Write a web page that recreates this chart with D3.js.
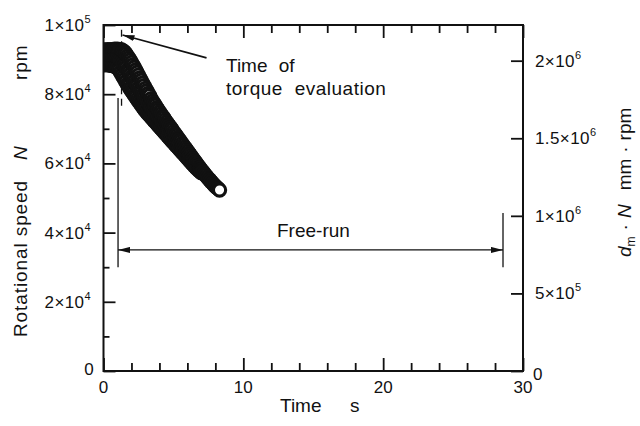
<!DOCTYPE html>
<html>
<head>
<meta charset="utf-8">
<script src="https://cdn.jsdelivr.net/npm/d3@7"></script>
<style>
  body { margin: 0; background: #fff; }
  svg text { font-family: "Liberation Sans", Arial, Helvetica, sans-serif; fill: #111; }
</style>
</head>
<body>
<div id="chart"></div>
<script>
// time axis (s) shared by the three overlapping runs of circles
const timeS = [
  0.0, 0.1, 0.2, 0.3, 0.4, 0.5, 0.6, 0.7, 0.8, 0.9,
  1.0, 1.1, 1.2, 1.3, 1.4, 1.5, 1.6, 1.7, 1.8, 1.9,
  2.0, 2.1, 2.2, 2.3, 2.4, 2.5, 2.6, 2.7, 2.8, 2.9,
  3.0, 3.1, 3.2, 3.3, 3.4, 3.5, 3.6, 3.7, 3.8, 3.9,
  4.0, 4.1, 4.2, 4.3, 4.4, 4.5, 4.6, 4.7, 4.8, 4.9,
  5.0, 5.1, 5.2, 5.3, 5.4, 5.5, 5.6, 5.7, 5.8, 5.9,
  6.0, 6.1, 6.2, 6.3, 6.4, 6.5, 6.6, 6.7, 6.8, 6.9,
  7.0, 7.1, 7.2, 7.3, 7.4, 7.5, 7.6, 7.7, 7.8, 7.9,
  8.0, 8.1, 8.2, 8.3
];
// rotational speed N (rpm), upper edge of the band
const speedUpper = [
  92700, 92800, 92600, 92900, 92800, 92700, 92900, 92800, 93000, 92900,
  93000, 92900, 92900, 92800, 92500, 92200, 91700, 91100, 90500, 89900,
  89200, 88500, 87800, 87000, 86300, 85500, 84700, 84000, 83200, 82500,
  81700, 81000, 80200, 79600, 78700, 78000, 77400, 76800, 76100, 75500,
  74900, 74300, 73700, 73200, 72600, 72000, 71400, 70900, 70300, 69800,
  69200, 68600, 68100, 67500, 66900, 66400, 65800, 65300, 64700, 64200,
  63600, 63000, 62500, 61900, 61400, 60800, 60300, 59700, 59200, 58600,
  58100, 57600, 57100, 56600, 56100, 55600, 55200, 54700, 54300, 53800,
  53400, 53000, 52700, 52300
];
// middle of the band (0 - 7 s)
const speedMiddle = [
  90700, 90600, 90600, 90700, 90600, 90600, 90600, 90500, 90600, 90400,
  90400, 90000, 89700, 89300, 88800, 88300, 87700, 87000, 86400, 85800,
  85100, 84500, 83800, 83100, 82500, 81800, 81100, 80500, 79800, 79200,
  78500, 77900, 77300, 76700, 76100, 75500, 74900, 74400, 73800, 73300,
  72800, 72200, 71700, 71200, 70700, 70200, 69600, 69200, 68600, 68200,
  67600, 67100, 66600, 66100, 65600, 65100, 64600, 64100, 63600, 63100,
  62600, 62000, 61600, 61000, 60600, 60000, 59600, 59100, 58600, 58200,
  57700
];
// lower edge of the band (0 - 7 s)
const speedLower = [
  88600, 88500, 88600, 88500, 88500, 88400, 88300, 88200, 88100, 87900,
  87700, 87100, 86400, 85700, 85000, 84300, 83600, 82900, 82300, 81600,
  81000, 80400, 79800, 79200, 78600, 78000, 77400, 76900, 76300, 75800,
  75200, 74700, 74300, 73800, 73400, 72900, 72400, 72000, 71500, 71100,
  70600, 70100, 69700, 69200, 68800, 68300, 67800, 67400, 66900, 66500,
  66000, 65600, 65100, 64700, 64200, 63800, 63300, 62900, 62400, 62000,
  61500, 61000, 60600, 60100, 59700, 59200, 58800, 58400, 58000, 57700,
  57300
];

const meanDiameterMm = 22.3;   // dm, right axis = dm * N

const xMajor = [0, 10, 20, 30];
const xMinor = [2, 4, 6, 8, 12, 14, 16, 18, 22, 24, 26, 28];
const xLabels = ["0", "10", "20", "30"];
const yMajor = [0, 20000, 40000, 60000, 80000, 100000];
const yMinor = [10000, 30000, 50000, 70000, 90000];
const yLabels = [["0", ""], ["2×10", "4"], ["4×10", "4"], ["6×10", "4"], ["8×10", "4"], ["1×10", "5"]];
const rMajor = [0, 500000, 1000000, 1500000, 2000000];
const rLabels = [["0", ""], ["5×10", "5"], ["1×10", "6"], ["1.5×10", "6"], ["2×10", "6"]];

// annotation values (data units)
const torqueTime = 1.29;
const torqueSpan = [76600, 98600];
const freeRunStart = 1.04, freeRunEnd = 28.57, freeRunLevel = 35000;
const freeRunLeftSpan = [30000, 78900];
const freeRunRightSpan = [30000, 45700];
const calloutFrom = [7.37, 90500], calloutTo = [1.36, 97100];

const W = 640, H = 426;
const m = { left: 103.5, right: 117, top: 25, bottom: 55 };
const pw = W - m.left - m.right, ph = H - m.top - m.bottom;

const svg = d3.select("#chart").append("svg").attr("width", W).attr("height", H);

const x = d3.scaleLinear().domain([0, 30]).range([m.left, m.left + pw]);
const y = d3.scaleLinear().domain([0, 100000]).range([m.top + ph, m.top]);
const yR = d3.scaleLinear().domain([0, 100000 * meanDiameterMm]).range([m.top + ph, m.top]);

const defs = svg.append("defs");
defs.append("clipPath").attr("id", "plotClip")
  .append("rect").attr("x", m.left).attr("y", m.top).attr("width", pw).attr("height", ph);
defs.append("marker").attr("id", "head")
  .attr("viewBox", "0 0 12 6").attr("refX", 12).attr("refY", 3)
  .attr("markerWidth", 12).attr("markerHeight", 6)
  .attr("markerUnits", "userSpaceOnUse").attr("orient", "auto-start-reverse")
  .append("path").attr("d", "M0,0 L12,3 L0,6 Z").attr("fill", "#111");

// time-of-torque marker (dashed, mostly hidden under circles)
svg.append("line")
  .attr("x1", x(torqueTime)).attr("x2", x(torqueTime))
  .attr("y1", y(torqueSpan[1])).attr("y2", y(torqueSpan[0]))
  .attr("stroke", "#111").attr("stroke-width", 1.3).attr("stroke-dasharray", "7,4.5");

// free-run limits and arrow
const ann = svg.append("g").attr("stroke", "#111").attr("stroke-width", 1.3);
ann.append("line").attr("x1", x(freeRunStart)).attr("x2", x(freeRunStart))
  .attr("y1", y(freeRunLeftSpan[1])).attr("y2", y(freeRunLeftSpan[0]));
ann.append("line").attr("x1", x(freeRunEnd)).attr("x2", x(freeRunEnd))
  .attr("y1", y(freeRunRightSpan[1])).attr("y2", y(freeRunRightSpan[0]));
ann.append("line").attr("x1", x(freeRunStart)).attr("x2", x(freeRunEnd))
  .attr("y1", y(freeRunLevel)).attr("y2", y(freeRunLevel))
  .attr("marker-start", "url(#head)").attr("marker-end", "url(#head)");
ann.append("line").attr("x1", x(calloutFrom[0])).attr("y1", y(calloutFrom[1]))
  .attr("x2", x(calloutTo[0])).attr("y2", y(calloutTo[1]))
  .attr("stroke-width", 1.6).attr("marker-end", "url(#head)");

// points, drawn in time order
const points = [];
timeS.forEach((t, i) => {
  if (speedUpper[i] !== undefined) points.push({ t, n: speedUpper[i] });
  if (speedMiddle[i] !== undefined) points.push({ t, n: speedMiddle[i] });
  if (speedLower[i] !== undefined) points.push({ t, n: speedLower[i] });
});
points.sort((a, b) => a.t - b.t);

svg.append("g").attr("clip-path", "url(#plotClip)")
  .selectAll("circle").data(points).join("circle")
  .attr("cx", d => x(d.t)).attr("cy", d => y(d.n)).attr("r", 6.1)
  .attr("fill", "#fff").attr("stroke", "#111").attr("stroke-width", 3.1);

// axes: ticks pointing inward, frame drawn separately
function ticks(axis, pos, vals, size) {
  svg.append("g").attr("transform", pos)
    .call(axis.tickValues(vals).tickSizeInner(size).tickSizeOuter(0).tickFormat(""))
    .call(g => g.select(".domain").remove())
    .call(g => g.selectAll("line").attr("stroke", "#111").attr("stroke-width", 1.8));
}
ticks(d3.axisBottom(x), `translate(0,${m.top + ph})`, xMajor, -13);
ticks(d3.axisBottom(x), `translate(0,${m.top + ph})`, xMinor, -8);
ticks(d3.axisTop(x), `translate(0,${m.top})`, xMajor, -13);
ticks(d3.axisTop(x), `translate(0,${m.top})`, xMinor, -8);
ticks(d3.axisLeft(y), `translate(${m.left},0)`, yMajor, -12);
ticks(d3.axisLeft(y), `translate(${m.left},0)`, yMinor, -6);
ticks(d3.axisRight(yR), `translate(${m.left + pw},0)`, rMajor, -12);

svg.append("rect").attr("x", m.left).attr("y", m.top).attr("width", pw).attr("height", ph)
  .attr("fill", "none").attr("stroke", "#111").attr("stroke-width", 2);

// tick labels
const fs = 17;
svg.append("g").selectAll("text").data(xMajor).join("text")
  .attr("x", d => x(d)).attr("y", m.top + ph + 22).attr("text-anchor", "middle")
  .attr("font-size", fs).text((d, i) => xLabels[i]);

function expLabel(g, parts) {
  g.append("tspan").text(parts[0]);
  if (parts[1]) g.append("tspan").attr("font-size", 11).attr("dy", -8).text(parts[1]);
}
svg.append("g").selectAll("text").data(yMajor).join("text")
  .attr("x", d => d === 0 ? 94 : 91)
  .attr("y", d => d === 0 ? y(d) + 4 : y(d) + 6)
  .attr("text-anchor", "end").attr("font-size", fs).attr("letter-spacing", 0.4)
  .each(function (d, i) { expLabel(d3.select(this), yLabels[i]); });
svg.append("g").selectAll("text").data(rMajor).join("text")
  .attr("x", d => d === 0 ? 533 : 535)
  .attr("y", d => d === 0 ? yR(d) + 9 : yR(d) + 6)
  .attr("font-size", fs).attr("letter-spacing", 0.4)
  .each(function (d, i) { expLabel(d3.select(this), rLabels[i]); });

// axis titles
const title = 19;
svg.append("text").attr("y", 412).attr("font-size", title)
  .call(t => t.append("tspan").attr("x", 280).text("Time"))
  .call(t => t.append("tspan").attr("x", 350).text("s"));

svg.append("text").attr("transform", "translate(27,337) rotate(-90)")
  .attr("font-size", title).attr("letter-spacing", 0.9)
  .call(t => t.append("tspan").attr("x", 0).text("Rotational speed"))
  .call(t => t.append("tspan").attr("x", 177).attr("font-style", "italic").text("N"))
  .call(t => t.append("tspan").attr("x", 257).text("rpm"));

svg.append("text").attr("transform", "translate(631,257) rotate(-90)")
  .attr("font-size", title)
  .call(t => t.append("tspan").attr("font-style", "italic").text("d"))
  .call(t => t.append("tspan").attr("font-size", 12).attr("dy", 4).text("m"))
  .call(t => t.append("tspan").attr("dy", -4).attr("dx", 6).text("·"))
  .call(t => t.append("tspan").attr("dx", 6).attr("font-style", "italic").text("N"))
  .call(t => t.append("tspan").attr("dx", 14).text("mm"))
  .call(t => t.append("tspan").attr("dx", 6).text("·"))
  .call(t => t.append("tspan").attr("dx", 6).text("rpm"));

// annotations
svg.append("text").attr("x", 226).attr("y", 72).attr("font-size", title)
  .attr("word-spacing", 6).text("Time of");
svg.append("text").attr("x", 226).attr("y", 95).attr("font-size", title)
  .attr("word-spacing", 6).attr("letter-spacing", 0.5).text("torque evaluation");
svg.append("text").attr("x", 277).attr("y", 237).attr("font-size", title).text("Free-run");
</script>
</body>
</html>
